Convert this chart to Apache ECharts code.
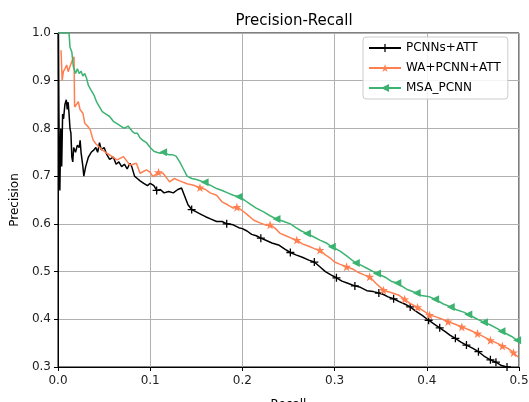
<!DOCTYPE html>
<html>
<head>
<meta charset="utf-8">
<script src="https://cdn.jsdelivr.net/npm/echarts@6/dist/echarts.min.js"></script>
<style>
html,body{margin:0;padding:0;background:#fff;}
#chart{width:529px;height:402px;}
</style>
</head>
<body>
<div id="chart"></div>
<script>
// ---- data ----
const seriesNames = ['PCNNs+ATT', 'WA+PCNN+ATT', 'MSA_PCNN'];
const xTicks = [0.0, 0.1, 0.2, 0.3, 0.4, 0.5];
const yTicks = [0.3, 0.4, 0.5, 0.6, 0.7, 0.8, 0.9, 1.0];

const pcnnRecall = [0.0005,0.001,0.0015,0.002,0.003,0.004,0.005,0.006,0.0075,0.009,0.010,0.011,0.012,0.013,0.014,0.015,0.016,0.017,0.019,0.021,0.023,0.024,0.025,0.027,0.028,0.030,0.033,0.036,0.039,0.041,0.043,0.045,0.047,0.050,0.053,0.056,0.060,0.063,0.066,0.069,0.072,0.075,0.078,0.080,0.083,0.086,0.089,0.093,0.097,0.100,0.104,0.107,0.111,0.115,0.120,0.125,0.130,0.134,0.137,0.141,0.145,0.150,0.155,0.160,0.166,0.172,0.178,0.183,0.190,0.196,0.200,0.205,0.210,0.215,0.220,0.226,0.232,0.240,0.246,0.252,0.258,0.265,0.272,0.278,0.284,0.290,0.296,0.302,0.308,0.315,0.322,0.328,0.335,0.342,0.348,0.353,0.358,0.364,0.370,0.376,0.382,0.388,0.395,0.402,0.408,0.414,0.420,0.425,0.431,0.437,0.443,0.450,0.456,0.462,0.469,0.475,0.481,0.487,0.490];
const pcnnPrecision = [1.0,0.83,0.72,0.67,0.80,0.72,0.83,0.82,0.85,0.86,0.84,0.855,0.83,0.80,0.79,0.74,0.73,0.76,0.75,0.765,0.76,0.775,0.75,0.72,0.70,0.72,0.74,0.75,0.755,0.76,0.75,0.77,0.755,0.76,0.745,0.735,0.74,0.725,0.73,0.72,0.725,0.715,0.727,0.72,0.70,0.695,0.69,0.685,0.68,0.685,0.68,0.67,0.672,0.665,0.668,0.665,0.672,0.675,0.66,0.64,0.63,0.625,0.62,0.615,0.61,0.605,0.605,0.60,0.598,0.592,0.59,0.585,0.578,0.575,0.57,0.565,0.56,0.555,0.547,0.54,0.535,0.53,0.524,0.52,0.51,0.50,0.493,0.487,0.48,0.475,0.47,0.467,0.46,0.458,0.455,0.452,0.447,0.443,0.437,0.432,0.426,0.417,0.408,0.398,0.39,0.382,0.374,0.367,0.36,0.352,0.346,0.339,0.332,0.323,0.315,0.31,0.303,0.30,0.298];
const pcnnMarkerRecall = [0.106,0.146,0.186,0.219,0.252,0.277,0.302,0.325,0.347,0.365,0.382,0.400,0.416,0.431,0.443,0.456,0.466,0.476,0.485];

const waRecall = [0.0033,0.0045,0.0058,0.0075,0.0094,0.011,0.013,0.015,0.0174,0.018,0.020,0.022,0.024,0.027,0.029,0.032,0.035,0.038,0.041,0.044,0.048,0.053,0.058,0.064,0.071,0.078,0.085,0.089,0.096,0.100,0.103,0.109,0.114,0.121,0.126,0.132,0.140,0.147,0.154,0.160,0.165,0.172,0.178,0.184,0.190,0.194,0.199,0.205,0.212,0.219,0.226,0.230,0.236,0.241,0.247,0.253,0.259,0.265,0.272,0.278,0.284,0.290,0.296,0.300,0.306,0.313,0.320,0.326,0.332,0.338,0.345,0.353,0.361,0.369,0.376,0.382,0.390,0.396,0.403,0.410,0.417,0.423,0.430,0.438,0.447,0.455,0.462,0.469,0.476,0.482,0.488,0.494,0.499];
const waPrecision = [0.964,0.90,0.919,0.925,0.933,0.919,0.93,0.94,0.95,0.845,0.85,0.856,0.839,0.832,0.811,0.805,0.797,0.776,0.768,0.762,0.755,0.748,0.742,0.734,0.741,0.723,0.727,0.706,0.713,0.708,0.699,0.708,0.706,0.688,0.695,0.69,0.684,0.681,0.676,0.672,0.665,0.66,0.646,0.64,0.633,0.635,0.629,0.62,0.608,0.602,0.597,0.598,0.59,0.58,0.575,0.57,0.566,0.558,0.553,0.548,0.545,0.535,0.527,0.52,0.515,0.51,0.505,0.498,0.493,0.489,0.475,0.461,0.456,0.451,0.442,0.433,0.425,0.418,0.409,0.405,0.40,0.395,0.39,0.384,0.377,0.37,0.363,0.356,0.35,0.344,0.339,0.33,0.321];
const waMarkerRecall = [0.109,0.154,0.194,0.230,0.259,0.284,0.311,0.338,0.353,0.376,0.390,0.403,0.423,0.438,0.455,0.469,0.482,0.494];

const msaRecall = [0.0,0.012,0.013,0.015,0.0166,0.019,0.021,0.023,0.025,0.027,0.029,0.031,0.033,0.036,0.039,0.042,0.045,0.048,0.052,0.056,0.060,0.064,0.068,0.072,0.076,0.080,0.083,0.086,0.089,0.092,0.096,0.100,0.104,0.107,0.111,0.114,0.120,0.124,0.128,0.132,0.136,0.140,0.145,0.150,0.155,0.159,0.166,0.172,0.178,0.184,0.190,0.196,0.202,0.208,0.215,0.223,0.230,0.237,0.245,0.252,0.258,0.264,0.270,0.277,0.284,0.291,0.297,0.306,0.313,0.323,0.328,0.335,0.342,0.346,0.356,0.362,0.368,0.378,0.389,0.394,0.403,0.409,0.418,0.426,0.432,0.440,0.445,0.455,0.462,0.469,0.477,0.481,0.492,0.498];
const msaPrecision = [1.0,1.0,0.97,0.96,0.93,0.915,0.925,0.915,0.92,0.91,0.915,0.905,0.89,0.88,0.87,0.855,0.845,0.835,0.83,0.825,0.815,0.81,0.805,0.80,0.805,0.795,0.79,0.79,0.78,0.775,0.77,0.76,0.752,0.75,0.748,0.75,0.745,0.745,0.742,0.73,0.715,0.70,0.695,0.693,0.69,0.687,0.68,0.674,0.67,0.665,0.66,0.657,0.65,0.642,0.633,0.625,0.617,0.61,0.605,0.60,0.592,0.585,0.58,0.573,0.566,0.56,0.552,0.543,0.533,0.518,0.514,0.507,0.50,0.496,0.487,0.479,0.476,0.463,0.455,0.45,0.447,0.442,0.432,0.426,0.42,0.415,0.41,0.40,0.394,0.388,0.38,0.375,0.364,0.356];
const msaMarkerRecall = [0.114,0.159,0.196,0.237,0.270,0.297,0.323,0.346,0.368,0.389,0.409,0.426,0.445,0.462,0.481,0.498];

// ---- styling ----
const colors = ['#000000', '#FF7F50', '#3CB371'];
const plusPath = 'path://M4.2,0 L5.8,0 L5.8,4.2 L10,4.2 L10,5.8 L5.8,5.8 L5.8,10 L4.2,10 L4.2,5.8 L0,5.8 L0,4.2 L4.2,4.2 Z';
const starPath = 'path://M50,0 L61.23,34.55 L97.55,34.55 L68.17,55.9 L79.39,90.45 L50,69.1 L20.61,90.45 L31.83,55.9 L2.45,34.55 L38.77,34.55 Z';
const triPath = 'path://M0,5 L10,0 L10,10 Z';
const symbols = [plusPath, starPath, triPath];
const symbolSizes = [8, 9, 8];

function buildData(xs, ys, markerXs) {
  const markIdx = new Set();
  markerXs.forEach(mx => {
    let best = 0, bd = Infinity;
    xs.forEach((x, i) => { const d = Math.abs(x - mx); if (d < bd) { bd = d; best = i; } });
    markIdx.add(best);
  });
  return xs.map((x, i) => markIdx.has(i) ? { value: [x, ys[i]] } : { value: [x, ys[i]], symbol: 'none' });
}

const allData = [
  buildData(pcnnRecall, pcnnPrecision, pcnnMarkerRecall),
  buildData(waRecall, waPrecision, waMarkerRecall),
  buildData(msaRecall, msaPrecision, msaMarkerRecall)
];

const font = 'DejaVu Sans';
const chart = echarts.init(document.getElementById('chart'), null, { renderer: 'canvas' });
chart.setOption({
  animation: false,
  backgroundColor: '#ffffff',
  title: {
    text: 'Precision-Recall',
    left: 289, top: 9, textAlign: 'center',
    textStyle: { fontFamily: font, fontSize: 15, fontWeight: 'normal', color: '#000' }
  },
  legend: {
    orient: 'vertical',
    left: 363, top: 37,
    padding: [5, 7, 5, 5],
    itemGap: 8,
    itemWidth: 32, itemHeight: 10,
    borderColor: '#cccccc', borderWidth: 1, borderRadius: 3,
    backgroundColor: 'rgba(255,255,255,0.85)',
    textStyle: { fontFamily: font, fontSize: 12, color: '#000' },
    data: seriesNames
  },
  grid: {
    left: 58, right: 10, top: 33, bottom: 35,
    containLabel: false,
    outerBoundsMode: 'none',
    show: true, borderColor: '#000', borderWidth: 1, backgroundColor: 'transparent'
  },
  xAxis: {
    type: 'value', min: xTicks[0], max: xTicks[xTicks.length - 1], interval: 0.1,
    name: 'Recall', nameLocation: 'middle', nameGap: 32,
    nameTextStyle: { fontFamily: font, fontSize: 12, color: '#000' },
    axisLine: { show: true, onZero: false, lineStyle: { color: '#000', width: 1 } },
    axisTick: { show: true, inside: false, length: 4, lineStyle: { color: '#000' } },
    axisLabel: { fontFamily: font, fontSize: 12, color: '#222', margin: 8, formatter: v => v.toFixed(1) },
    splitLine: { show: true, lineStyle: { color: '#b0b0b0', width: 1 } }
  },
  yAxis: {
    type: 'value', min: yTicks[0], max: yTicks[yTicks.length - 1], interval: 0.1,
    name: 'Precision', nameLocation: 'middle', nameGap: 34,
    nameTextStyle: { fontFamily: font, fontSize: 12, color: '#000' },
    axisLine: { show: true, onZero: false, lineStyle: { color: '#000', width: 1 } },
    axisTick: { show: true, inside: false, length: 4, lineStyle: { color: '#000' } },
    axisLabel: { fontFamily: font, fontSize: 12, color: '#222', margin: 7, formatter: v => v.toFixed(1) },
    splitLine: { show: true, lineStyle: { color: '#b0b0b0', width: 1 } }
  },
  series: seriesNames.map((name, k) => ({
    name: name,
    type: 'line',
    data: allData[k],
    color: colors[k],
    lineStyle: { color: colors[k], width: 1.5 },
    itemStyle: { color: colors[k], borderWidth: 0 },
    symbol: symbols[k],
    symbolSize: symbolSizes[k],
    showSymbol: true,
    showAllSymbol: true,
    clip: true,
    z: 2 + k
  }))
});
</script>
</body>
</html>
